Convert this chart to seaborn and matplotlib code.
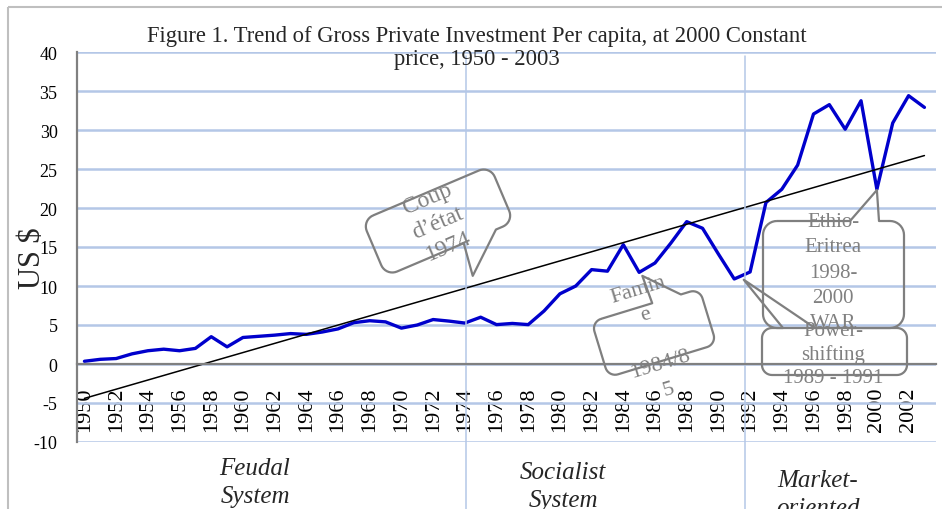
import numpy as np
import pandas as pd
import seaborn as sns
import matplotlib.pyplot as plt
from matplotlib.path import Path
from matplotlib.patches import PathPatch, Rectangle
from matplotlib.transforms import Affine2D

# Data (US$ per capita, 2000 prices)
years = list(range(1950, 2004))
investment = [0.35, 0.6, 0.7, 1.3, 1.7, 1.9, 1.7, 2.0, 3.5, 2.2,
              3.4, 3.55, 3.7, 3.9, 3.8, 4.1, 4.5, 5.3, 5.55, 5.4,
              4.6, 5.0, 5.7, 5.5, 5.25, 6.0, 5.05, 5.2, 5.05, 6.8,
              9.0, 10.0, 12.1, 11.9, 15.3, 11.75, 12.95, 15.5, 18.25, 17.4,
              14.1, 10.9, 11.8, 20.7, 22.4, 25.5, 32.05, 33.25, 30.1, 33.75,
              22.4, 30.9, 34.4, 32.9]
tick_years = list(range(1950, 2003, 2))
y_ticks = list(range(-10, 41, 5))
system_breaks = [1974.1, 1991.7]
system_labels = ["Feudal\nSystem", "Socialist\nSystem", "Market-\noriented"]

df = pd.DataFrame({"year": years, "investment": investment})

sns.set_theme(style="white")
plt.rcParams["font.family"] = ["Liberation Serif", "DejaVu Serif"]
plt.rcParams["axes.unicode_minus"] = False

W, H = 942, 510
fig = plt.figure(figsize=(W / 100, H / 100), dpi=100)
ax = fig.add_axes([77 / W, 1 - 443 / H, (936 - 77) / W, 390 / H])

# pixel coords of the image (y down) -> display
img = Affine2D().scale(1 / 100, -1 / 100).translate(0, H / 100) + fig.dpi_scale_trans

ax.yaxis.grid(True, color="#B4C7E7", lw=1.8)
ax.xaxis.grid(False)

sns.lineplot(data=df, x="year", y="investment", color="#0000CC", lw=2.4, ax=ax)

# linear trend (as Excel's trendline)
coef = np.polyfit(df["year"], df["investment"], 1)
ax.plot(df["year"], np.polyval(coef, df["year"]), color="black", lw=1.1)

ax.set_xlim(1949.53, 2003.73)
ax.set_ylim(-10, 40)
ax.set_xticks(tick_years)
ax.set_yticks(y_ticks)
ax.set_xlabel("")
ax.set_ylabel("")

for side in ["top", "right"]:
    ax.spines[side].set_visible(False)
ax.spines["bottom"].set_position(("data", 0))
for side in ["bottom", "left"]:
    ax.spines[side].set_color("#808080")
    ax.spines[side].set_linewidth(1.6)

ax.tick_params(axis="x", length=0, pad=16, labelsize=16, labelrotation=90, colors="black")
ax.tick_params(axis="y", length=0, pad=14, labelsize=13, colors="black")

for b in system_breaks:
    ax.axvline(b, ymin=-0.2, ymax=0.99, color="#B4C7E7", lw=1.1, clip_on=False)


def to_img(x, y):
    px, py = ax.transData.transform((x, y))
    return px * 100 / fig.dpi, H - py * 100 / fig.dpi


def callout(cx, cy, w, h, angle, r, edge, t0, t1, tip):
    rot = Affine2D().rotate_deg(-angle)
    tx, ty = rot.inverted().transform((tip[0] - cx, tip[1] - cy))
    hw, hh = w / 2, h / 2
    pts = [(-hw + r, -hh)]

    def arc(xc, yc, a0, a1):
        for a in np.radians(np.linspace(a0, a1, 10)):
            pts.append((xc + r * np.cos(a), yc + r * np.sin(a)))

    if edge == "top":
        pts.extend([(t0, -hh), (tx, ty), (t1, -hh)])
    arc(hw - r, -hh + r, 270, 360)
    arc(hw - r, hh - r, 0, 90)
    if edge == "bottom":
        pts.extend([(t1, hh), (tx, ty), (t0, hh)])
    arc(-hw + r, hh - r, 90, 180)
    arc(-hw + r, -hh + r, 180, 270)
    pts.append(pts[0])
    patch = PathPatch(Path(np.array(pts)), fill=False, ec="#7F7F7F", lw=1.6,
                      joinstyle="round", clip_on=False,
                      transform=rot + Affine2D().translate(cx, cy) + img)
    fig.add_artist(patch)


gray = "#808080"
callout(438, 222, 139, 61, 23, 12, "bottom", 15, 50, to_img(1974.5, 11.3))
fig.text(438, 223, "Coup\nd’état\n1974", transform=img, rotation=23, rotation_mode="anchor",
         ha="center", va="center", fontsize=17, color=gray, linespacing=1.3)

callout(654, 334, 113, 58, 17, 10, "top", 7, 37, to_img(1985.2, 11.3))
fig.text(653, 340, "Famin\ne\n\n1984/8\n5", transform=img, rotation=17, rotation_mode="anchor",
         ha="center", va="center", fontsize=16, color=gray, linespacing=1.5)

callout(833.5, 275.5, 141, 107, 0, 14, "top", 16.5, 45.5, to_img(2000, 22.3))
fig.text(833, 273, "Ethio-\nEritrea\n1998-\n2000\nWAR", transform=img,
         ha="center", va="center", fontsize=15, color=gray, linespacing=1.45)

callout(834.5, 352.5, 145, 47, 0, 10, "top", -51.5, -19.5, to_img(1991.6, 10.8))
fig.text(833, 355, "Power-\nshifting\n1989 - 1991", transform=img,
         ha="center", va="center", fontsize=15, color=gray, linespacing=1.3)

# title, axis label, period labels
fig.text(477, 48, "Figure 1. Trend of Gross Private Investment Per capita, at 2000 Constant\nprice, 1950 - 2003",
         transform=img, ha="center", va="center", fontsize=16.3, linespacing=1.15)
fig.text(33, 258, "US $", transform=img, rotation=90, ha="center", va="center", fontsize=22)

for (x, y), label in zip([(255, 483), (563, 487), (818, 495)], system_labels):
    fig.text(x, y, label, transform=img, ha="center", va="center", fontsize=18,
             style="italic", linespacing=1.4)

fig.add_artist(Rectangle((8, 8), 1200, 800, transform=img, fill=False, ec="#BFBFBF", lw=1.5, clip_on=False))

fig.savefig("out.png", dpi=100)
